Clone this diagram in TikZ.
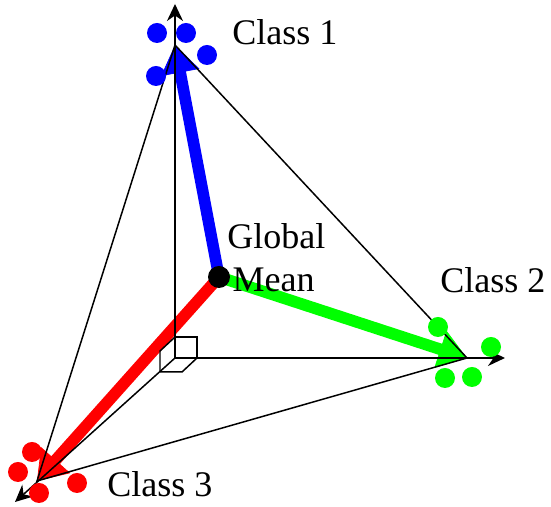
\documentclass[tikz,border=0pt]{standalone}
\usepackage{fontspec}
\setmainfont{Liberation Serif}
\usetikzlibrary{arrows.meta, positioning}

\begin{document}
\begin{tikzpicture}[
        every node/.style={font=\fontsize{20.5}{25}\selectfont},
        axis/.style={-{Stealth[length=0.34cm, width=0.32cm]}, line width=0.85pt},
        edge/.style={line width=0.85pt},
        meanvec/.style={line width=6.6pt, shorten >=0.45cm,
            postaction={draw, line width=0.4pt, shorten >=0pt,
                -{Triangle[length=0.56cm, width=0.78cm]}}},
        classtext/.style={anchor=base west, inner sep=0pt},
    ]

    \useasboundingbox (0,0) rectangle (11.02,10.14);

    \coordinate (origin) at (3.50,2.98);
    \coordinate (xtip)   at (10.10,2.98);
    \coordinate (ytip)   at (3.50,10.06);
    \coordinate (ztip)   at (0.30,0.10);
    \coordinate (c1)     at (3.50,9.24);
    \coordinate (c2)     at (9.34,2.98);
    \coordinate (c3)     at (0.74,0.52);
    \coordinate (m)      at (4.38,4.60);

    % class mean vectors
    \draw [meanvec, blue]  (m) -- (c1);
    \draw [meanvec, green] (m) -- (c2);
    \draw [meanvec, red]   (m) -- (c3);

    % axes and simplex
    \draw [axis] (origin) -- (xtip);
    \draw [axis] (origin) -- (ytip);
    \draw [axis] (origin) -- (ztip);
    \draw [edge] (c1) -- (c2) -- (c3) -- cycle;

    % right angle mark
    \draw [edge] ([yshift=0.42cm]origin) -- ++(0.44,0) -- ++(0,-0.42);
    \draw [edge] ([yshift=0.42cm]origin) -- ++(-0.30,-0.28) -- ++(0,-0.42);
    \draw [edge] ([xshift=0.44cm]origin) -- ++(-0.30,-0.28) -- ++(-0.44,0);

    % samples
    \foreach \p in {(3.14,9.48), (3.72,9.48), (4.14,9.04), (3.12,8.62)}
        \fill [blue] \p circle (0.2);
    \foreach \p in {(8.76,3.60), (9.82,3.20), (8.90,2.58), (9.44,2.60)}
        \fill [green] \p circle (0.2);
    \foreach \p in {(0.64,1.10), (0.36,0.70), (0.78,0.28), (1.54,0.48)}
        \fill [red] \p circle (0.2);

    \node (mean) [circle, fill=black, inner sep=0pt, minimum size=0.44cm] at (m) {};

    \node (cls1)  [classtext] at (4.64,9.24) {Class 1};
    \node (cls2)  [classtext] at (8.80,4.28) {Class 2};
    \node (cls3)  [classtext] at (2.14,0.20) {Class 3};
    \node (gmean) [classtext, align=left] at (4.54,4.30) {Global\\\hspace{3pt}Mean};

\end{tikzpicture}
\end{document}
